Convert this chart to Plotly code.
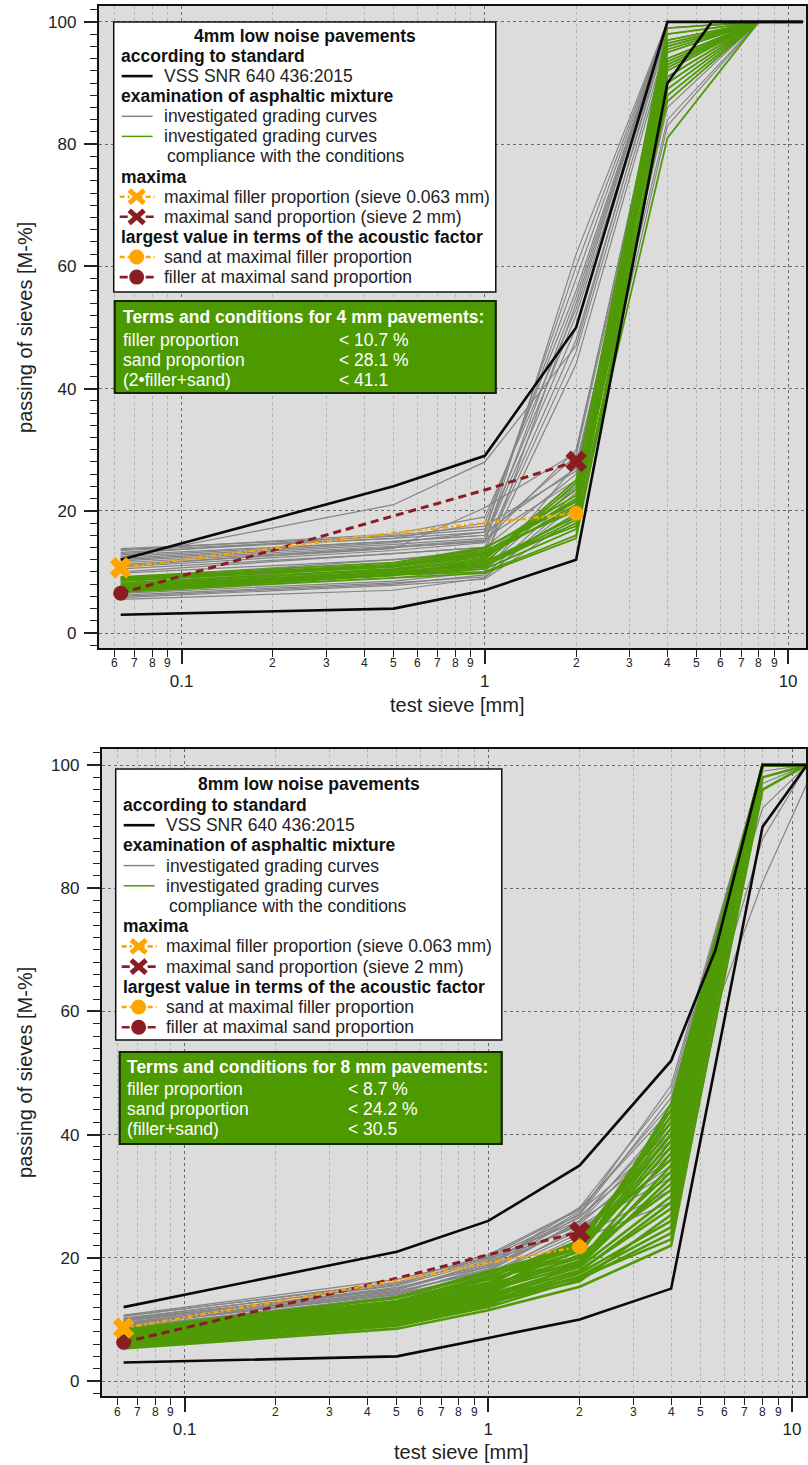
import math
import plotly.graph_objects as go

W, H = 808, 1465

# ---------------- data : 4 mm panel ----------------
SIEVES_4 = [0.063, 0.5, 1, 2, 4, 8]
UPPER_4_X = [0.063, 0.5, 1, 2, 4, 11.2]
UPPER_4_Y = [12, 24, 29, 50, 100, 100]
LOWER_4_X = [0.063, 0.5, 1, 2, 4, 5.6, 11.2]
LOWER_4_Y = [3, 4, 7, 12, 90, 100, 100]
GRAY_4 = [
    [13.5, 15.5, 16.5, 27.0, 93, 100],
    [12.8, 15.0, 16.0, 29.0, 95, 100],
    [12.0, 14.5, 15.5, 25.0, 90, 100],
    [11.5, 14.0, 15.0, 30.0, 96, 100],
    [10.5, 13.0, 14.0, 26.0, 92, 100],
    [9.8, 12.0, 13.0, 24.0, 88, 100],
    [13.0, 16.0, 17.5, 26.5, 94, 100],
    [6.0, 8.0, 9.5, 23.0, 86, 100],
    [5.5, 7.0, 9.0, 22.0, 84, 100],
    [7.0, 9.0, 10.5, 24.0, 90, 100],
    [6.5, 8.5, 10.0, 27.5, 91, 100],
    [5.8, 7.8, 8.8, 19.0, 83, 100],
    [6.2, 8.2, 9.2, 21.0, 89, 100],
    [12.5, 15.0, 16.0, 52.0, 99, 100],
    [11.0, 14.0, 15.0, 55.0, 100, 100],
    [13.8, 15.8, 17.0, 58.0, 100, 100],
    [10.0, 13.0, 14.0, 48.0, 98, 100],
    [12.2, 14.8, 16.5, 60.0, 100, 100],
    [9.0, 12.0, 13.5, 46.0, 97, 100],
    [13.2, 15.5, 18.0, 56.0, 100, 100],
    [11.8, 14.2, 15.2, 50.0, 99, 100],
    [8.0, 11.0, 12.5, 44.0, 96, 100],
    [12.4, 21.0, 28.0, 47.0, 99, 100],
    [13.6, 16.2, 19.0, 53.0, 100, 100],
    [10.8, 13.5, 14.8, 62.0, 100, 100],
    [11.2, 13.8, 20.5, 29.5, 97, 100],
    [7.5, 10.2, 11.8, 54.0, 100, 100],
]
GREEN_4 = [
    [7.0, 9.5, 11.5, 24.5, 97, 100],
    [9.2, 11.5, 14.0, 21.5, 95, 100],
    [8.5, 11.0, 13.0, 22.0, 93, 100],
    [8.2, 10.5, 12.5, 21.0, 96, 100],
    [8.8, 11.0, 13.5, 20.0, 92, 100],
    [7.8, 10.0, 11.5, 19.0, 90, 100],
    [7.5, 10.0, 11.0, 18.0, 94, 100],
    [7.2, 9.5, 10.5, 17.0, 88, 100],
    [6.8, 9.5, 10.0, 16.0, 91, 100],
    [6.7, 9.0, 9.8, 15.5, 89, 100],
    [9.0, 11.2, 13.8, 22.5, 98, 100],
    [8.6, 10.8, 12.8, 20.5, 93.5, 100],
    [7.6, 9.8, 11.2, 18.5, 95.5, 100],
    [7.3, 10.2, 12.2, 23.5, 87, 100],
    [7.9, 10.4, 11.8, 17.5, 81, 100],
    [6.9, 9.4, 12.0, 25.0, 99, 100],
    [8.9, 11.0, 13.2, 21.5, 96.5, 100],
    [7.4, 9.6, 10.8, 19.5, 92.5, 100],
]
MAXIMA_X = [0.063, 0.5, 1, 2]
MAX_FILLER_4 = [10.7, 16.4, 18.0, 19.6]
MAX_SAND_4 = [6.5, 19.2, 23.4, 28.1]

# ---------------- data : 8 mm panel ----------------
SIEVES_8 = [0.063, 0.5, 1, 2, 4, 8, 11.2]
UPPER_8_X = [0.063, 0.5, 1, 2, 4, 5.6, 8, 11.2]
UPPER_8_Y = [12, 21, 26, 35, 52, 70, 100, 100]
LOWER_8_X = [0.063, 0.5, 1, 2, 4, 8, 11.2]
LOWER_8_Y = [3, 4, 7, 10, 15, 90, 100]
GRAY_8 = [
    [10.7, 16.5, 20.0, 27.0, 46, 100, 100],
    [10.5, 16.0, 20.5, 28.0, 44, 100, 100],
    [10.2, 15.5, 19.5, 26.5, 42, 100, 100],
    [10.0, 15.0, 19.0, 27.5, 40, 98, 100],
    [9.8, 15.2, 18.5, 25.5, 38, 100, 100],
    [9.5, 14.5, 18.0, 26.0, 36, 97, 100],
    [9.2, 14.0, 17.5, 24.5, 35, 100, 100],
    [9.0, 14.2, 17.0, 25.0, 33, 100, 100],
    [8.8, 13.5, 16.5, 23.5, 31, 99, 100],
    [8.5, 13.0, 16.0, 23.0, 29, 100, 100],
    [9.7, 14.8, 18.8, 28.2, 47, 100, 100],
    [10.6, 15.8, 19.8, 26.0, 43, 100, 100],
    [9.4, 14.6, 17.8, 25.8, 41, 81, 97],
    [8.7, 13.8, 17.2, 24.0, 37, 100, 100],
    [10.1, 15.6, 20.2, 27.8, 45, 93, 100],
    [9.1, 14.4, 18.2, 26.8, 39, 88, 100],
    [9.9, 14.9, 19.3, 25.2, 34, 100, 100],
    [9.3, 14.1, 18.6, 27.2, 48, 100, 100],
]
GREEN_8 = [
    [8.2, 13.5, 17.5, 22.0, 43, 100, 100],
    [8.0, 13.0, 17.0, 21.5, 40, 100, 100],
    [7.8, 12.5, 16.5, 21.0, 38, 100, 100],
    [7.5, 12.2, 16.0, 22.5, 36, 100, 100],
    [7.2, 11.8, 15.5, 20.0, 34, 100, 100],
    [7.0, 11.5, 15.0, 19.5, 32, 100, 100],
    [6.8, 11.0, 14.5, 23.0, 42, 100, 100],
    [6.5, 10.5, 14.0, 18.5, 30, 100, 100],
    [6.2, 10.2, 13.5, 18.0, 28, 100, 100],
    [6.0, 10.0, 13.0, 17.5, 26, 100, 100],
    [5.8, 9.5, 12.5, 17.0, 25, 100, 100],
    [5.5, 9.0, 12.0, 16.5, 24, 100, 100],
    [5.3, 8.5, 11.5, 15.3, 22, 98, 100],
    [8.4, 13.6, 17.8, 21.8, 44, 100, 100],
    [7.6, 12.8, 16.8, 22.8, 41, 100, 100],
    [7.4, 12.0, 15.8, 19.0, 35, 100, 100],
    [7.1, 11.6, 15.2, 21.2, 39, 100, 100],
    [6.9, 11.2, 14.8, 18.8, 33, 100, 100],
    [6.6, 10.8, 14.2, 20.5, 31, 100, 100],
    [6.3, 10.4, 13.8, 17.8, 29, 100, 100],
    [5.9, 9.8, 12.8, 16.2, 27, 100, 100],
    [5.6, 9.2, 12.2, 19.5, 37, 100, 100],
    [8.1, 12.9, 16.6, 20.2, 45, 100, 100],
    [7.3, 11.9, 15.6, 22.9, 40, 100, 100],
    [6.1, 10.1, 13.2, 16.8, 23, 96, 100],
]
MAX_FILLER_8 = [8.6, 16.3, 19.2, 21.8]
MAX_SAND_8 = [6.3, 16.7, 20.5, 24.2]

# ---------------- tick labels & texts ----------------
Y_TICKS = [0, 20, 40, 60, 80, 100]
X_MAJOR = [0.1, 1, 10]
X_MAJOR_TEXT = ["0.1", "1", "10"]
X_MINOR = [0.06, 0.07, 0.08, 0.09, 0.2, 0.3, 0.4, 0.5, 0.6, 0.7, 0.8, 0.9,
           2, 3, 4, 5, 6, 7, 8, 9]
X_MINOR_TEXT = ["6", "7", "8", "9", "2", "3", "4", "5", "6", "7", "8", "9",
                "2", "3", "4", "5", "6", "7", "8", "9"]
X_TITLE = "test sieve [mm]"
Y_TITLE = "passing of sieves [M-%]"

LEGEND_ROWS = [
    ("head", "according to standard"),
    ("black", "VSS SNR 640 436:2015"),
    ("head", "examination of asphaltic mixture"),
    ("gray", "investigated grading curves"),
    ("green", "investigated grading curves"),
    ("cont", "compliance with the conditions"),
    ("head", "maxima"),
    ("fillx", "maximal filler proportion (sieve 0.063 mm)"),
    ("sandx", "maximal sand proportion (sieve 2 mm)"),
    ("head", "largest value in terms of the acoustic factor"),
    ("fillo", "sand at maximal filler proportion"),
    ("sando", "filler at maximal sand proportion"),
]

# ---------------- styles ----------------
FONT = "Liberation Sans, Arial, sans-serif"
C_GRAY = "#858585"
C_GREEN = "#4f9a06"
C_BLACK = "#0a0a0a"
C_ORANGE = "#FFA500"
C_RED = "#8a1c24"
C_BG = "#dcdcdc"
C_BOX_GREEN = "#4d9900"
DASH_ORANGE = "5px,3px,2px,3px"
DASH_RED = "8px,5px"

PANELS = [
    dict(name="4mm low noise pavements",
         terms_title="Terms and conditions for 4 mm pavements:",
         terms_names=["filler proportion", "sand proportion", "(2•filler+sand)"],
         terms_values=["< 10.7 %", "< 28.1 %", "< 41.1"],
         sieves=SIEVES_4, gray=GRAY_4, green=GREEN_4, green_w=1.8,
         up=(UPPER_4_X, UPPER_4_Y), low=(LOWER_4_X, LOWER_4_Y),
         maxf=MAX_FILLER_4, maxs=MAX_SAND_4,
         px0=99, py0=6, py1=648, xr=[-1.273, 1.059], yr=[-2.45, 102.6],
         box=(114, 22, 497, 292), title_y=36, row0=56, step=20.1,
         hx=119, ex=162, cx=165, sx0=120, sx1=155, mx=137,
         gbox=(115, 301, 497, 393), gt_y=317, g_rows=[340, 360, 380], g_x=121, g_vx=338,
         minor_y=663, xt=(458, 705), yt=(25, 327)),
    dict(name="8mm low noise pavements",
         terms_title="Terms and conditions for 8 mm pavements:",
         terms_names=["filler proportion", "sand proportion", "(filler+sand)"],
         terms_values=["< 8.7 %", "< 24.2 %", "< 30.5"],
         sieves=SIEVES_8, gray=GRAY_8, green=GREEN_8, green_w=2.6,
         up=(UPPER_8_X, UPPER_8_Y), low=(LOWER_8_X, LOWER_8_Y),
         maxf=MAX_FILLER_8, maxs=MAX_SAND_8,
         px0=102, py0=749, py1=1396, xr=[-1.2726, 1.046], yr=[-2.43, 102.6],
         box=(116, 769, 503, 1040), title_y=784, row0=805, step=20.2,
         hx=121, ex=164, cx=167, sx0=122, sx1=157, mx=139,
         gbox=(120, 1052, 503, 1144), gt_y=1067, g_rows=[1089, 1109, 1129], g_x=125, g_vx=347,
         minor_y=1412, xt=(462, 1452), yt=(25, 1072)),
]


def PX(x):
    return x / W


def PY(y):
    return 1 - y / H


fig = go.Figure()
annotations = []
shapes = []
layout_axes = {}

for i, p in enumerate(PANELS):
    sfx = "" if i == 0 else str(i + 1)
    xa, ya = "x" + sfx, "y" + sfx
    # grading curves
    for curve in p["gray"]:
        fig.add_trace(go.Scatter(x=p["sieves"], y=curve, mode="lines", xaxis=xa, yaxis=ya,
                                 line=dict(color=C_GRAY, width=1.2), showlegend=False, hoverinfo="skip"))
    for curve in p["green"]:
        fig.add_trace(go.Scatter(x=p["sieves"], y=curve, mode="lines", xaxis=xa, yaxis=ya,
                                 line=dict(color=C_GREEN, width=p["green_w"]), showlegend=False, hoverinfo="skip"))
    # standard envelope
    for ex_, ey_ in (p["up"], p["low"]):
        fig.add_trace(go.Scatter(x=ex_, y=ey_, mode="lines", xaxis=xa, yaxis=ya,
                                 line=dict(color=C_BLACK, width=2.6), showlegend=False, hoverinfo="skip"))
    # maxima curves
    fig.add_trace(go.Scatter(x=MAXIMA_X, y=p["maxs"], mode="lines", xaxis=xa, yaxis=ya,
                             line=dict(color=C_RED, width=3, dash=DASH_RED), showlegend=False, hoverinfo="skip"))
    fig.add_trace(go.Scatter(x=MAXIMA_X, y=p["maxf"], mode="lines", xaxis=xa, yaxis=ya,
                             line=dict(color=C_ORANGE, width=2.6, dash=DASH_ORANGE), showlegend=False, hoverinfo="skip"))
    # markers
    fig.add_trace(go.Scatter(x=[MAXIMA_X[0]], y=[p["maxs"][0]], mode="markers", xaxis=xa, yaxis=ya,
                             marker=dict(symbol="circle", size=15, color=C_RED), showlegend=False, hoverinfo="skip"))
    fig.add_trace(go.Scatter(x=[MAXIMA_X[-1]], y=[p["maxf"][-1]], mode="markers", xaxis=xa, yaxis=ya,
                             marker=dict(symbol="circle", size=15, color=C_ORANGE), showlegend=False, hoverinfo="skip"))
    fig.add_trace(go.Scatter(x=[MAXIMA_X[0]], y=[p["maxf"][0]], mode="markers", xaxis=xa, yaxis=ya,
                             marker=dict(symbol="x", size=19, color=C_ORANGE, line=dict(width=0)),
                             showlegend=False, hoverinfo="skip"))
    fig.add_trace(go.Scatter(x=[MAXIMA_X[-1]], y=[p["maxs"][-1]], mode="markers", xaxis=xa, yaxis=ya,
                             marker=dict(symbol="x", size=19, color=C_RED, line=dict(width=0)),
                             showlegend=False, hoverinfo="skip"))

    # axes
    layout_axes["xaxis" + sfx] = dict(
        type="log", range=p["xr"], domain=[PX(p["px0"]), 1.0], anchor=ya,
        tickmode="array", tickvals=X_MAJOR, ticktext=X_MAJOR_TEXT,
        ticks="outside", ticklen=14, tickwidth=1.5, tickcolor="#222",
        tickfont=dict(family=FONT, size=17, color="#222"), ticklabelstandoff=3,
        showline=True, linecolor="#111", linewidth=2, mirror=True,
        showgrid=True, gridcolor="#6a6a6a", gridwidth=1, griddash="dot",
        minor=dict(tickmode="array", tickvals=X_MINOR, ticks="outside", ticklen=7, tickwidth=1,
                   tickcolor="#222", showgrid=True, gridcolor="#b4b4b4", gridwidth=1, griddash="dot"),
        zeroline=False, fixedrange=True,
    )
    layout_axes["yaxis" + sfx] = dict(
        range=p["yr"], domain=[PY(p["py1"]), PY(p["py0"])], anchor=xa,
        tickmode="array", tickvals=Y_TICKS,
        ticks="outside", ticklen=13, tickwidth=1.5, tickcolor="#222",
        tickfont=dict(family=FONT, size=17, color="#222"), ticklabelstandoff=4,
        showline=True, linecolor="#111", linewidth=2, mirror=True,
        showgrid=True, gridcolor="#6a6a6a", gridwidth=1, griddash="dot",
        minor=dict(dtick=2, tick0=0, ticks="outside", ticklen=7, tickwidth=1, tickcolor="#222", showgrid=False),
        zeroline=False, fixedrange=True,
    )

    # minor x tick labels
    for v, t in zip(X_MINOR, X_MINOR_TEXT):
        annotations.append(dict(x=math.log10(v), y=PY(p["minor_y"]), xref=xa, yref="paper", text=t,
                                showarrow=False, xanchor="center", yanchor="middle",
                                font=dict(family=FONT, size=12, color="#222")))
    # axis titles
    annotations.append(dict(x=PX(p["xt"][0]), y=PY(p["xt"][1]), xref="paper", yref="paper", text=X_TITLE,
                            showarrow=False, xanchor="center", yanchor="middle",
                            font=dict(family=FONT, size=20, color="#222")))
    annotations.append(dict(x=PX(p["yt"][0]), y=PY(p["yt"][1]), xref="paper", yref="paper", text=Y_TITLE,
                            showarrow=False, xanchor="center", yanchor="middle", textangle=-90,
                            font=dict(family=FONT, size=20, color="#222")))

    # legend box
    bx0, by0, bx1, by1 = p["box"]
    shapes.append(dict(type="rect", xref="paper", yref="paper", x0=PX(bx0), x1=PX(bx1), y0=PY(by0), y1=PY(by1),
                       fillcolor="white", line=dict(color="#111", width=1.5), layer="above"))
    annotations.append(dict(x=PX((bx0 + bx1) / 2), y=PY(p["title_y"]), xref="paper", yref="paper",
                            text="<b>" + p["name"] + "</b>", showarrow=False, xanchor="center", yanchor="middle",
                            font=dict(family=FONT, size=17.5, color="#111")))
    for r, (kind, txt) in enumerate(LEGEND_ROWS):
        ry = p["row0"] + r * p["step"]
        if kind == "head":
            annotations.append(dict(x=PX(p["hx"]), y=PY(ry), xref="paper", yref="paper", text="<b>" + txt + "</b>",
                                    showarrow=False, xanchor="left", yanchor="middle",
                                    font=dict(family=FONT, size=17.5, color="#111")))
            continue
        tx = p["cx"] if kind == "cont" else p["ex"]
        annotations.append(dict(x=PX(tx), y=PY(ry), xref="paper", yref="paper", text=txt,
                                showarrow=False, xanchor="left", yanchor="middle",
                                font=dict(family=FONT, size=17.5, color="#222")))
        sx0, sx1, mx = p["sx0"], p["sx1"], p["mx"]
        if kind in ("black", "gray", "green"):
            col = {"black": C_BLACK, "gray": C_GRAY, "green": C_GREEN}[kind]
            wid = {"black": 2.6, "gray": 1.5, "green": 1.5}[kind]
            shapes.append(dict(type="line", xref="paper", yref="paper", x0=PX(sx0 + 2), x1=PX(sx1 - 2),
                               y0=PY(ry), y1=PY(ry), line=dict(color=col, width=wid), layer="above"))
        elif kind in ("fillx", "sandx", "fillo", "sando"):
            col = C_ORANGE if kind.startswith("fill") else C_RED
            dash = DASH_ORANGE if kind.startswith("fill") else DASH_RED
            shapes.append(dict(type="line", xref="paper", yref="paper", x0=PX(sx0), x1=PX(sx1),
                               y0=PY(ry), y1=PY(ry), line=dict(color=col, width=2.6, dash=dash), layer="above"))
            if kind.endswith("x"):
                hw, hh = 7.5, 6.5
                path = (f"M {PX(mx - hw)},{PY(ry - hh)} L {PX(mx + hw)},{PY(ry + hh)} "
                        f"M {PX(mx - hw)},{PY(ry + hh)} L {PX(mx + hw)},{PY(ry - hh)}")
                shapes.append(dict(type="path", xref="paper", yref="paper", path=path,
                                   line=dict(color=col, width=5), layer="above"))
            else:
                rr = 7.5
                shapes.append(dict(type="circle", xref="paper", yref="paper", x0=PX(mx - rr), x1=PX(mx + rr),
                                   y0=PY(ry - rr), y1=PY(ry + rr), fillcolor=col, line=dict(color=col, width=0),
                                   layer="above"))

    # terms & conditions box
    gx0, gy0, gx1, gy1 = p["gbox"]
    shapes.append(dict(type="rect", xref="paper", yref="paper", x0=PX(gx0), x1=PX(gx1), y0=PY(gy0), y1=PY(gy1),
                       fillcolor=C_BOX_GREEN, line=dict(color="#14260a", width=2.2), layer="above"))
    annotations.append(dict(x=PX(p["g_x"]), y=PY(p["gt_y"]), xref="paper", yref="paper",
                            text="<b>" + p["terms_title"] + "</b>", showarrow=False, xanchor="left", yanchor="middle",
                            font=dict(family=FONT, size=17.5, color="white")))
    for gy, nm, val in zip(p["g_rows"], p["terms_names"], p["terms_values"]):
        annotations.append(dict(x=PX(p["g_x"]), y=PY(gy), xref="paper", yref="paper", text=nm,
                                showarrow=False, xanchor="left", yanchor="middle",
                                font=dict(family=FONT, size=17.5, color="white")))
        annotations.append(dict(x=PX(p["g_vx"]), y=PY(gy), xref="paper", yref="paper", text=val,
                                showarrow=False, xanchor="left", yanchor="middle",
                                font=dict(family=FONT, size=17.5, color="white")))

fig.update_layout(
    width=W, height=H, autosize=False,
    margin=dict(l=0, r=0, t=0, b=0, pad=0),
    paper_bgcolor="white", plot_bgcolor=C_BG,
    showlegend=False,
    annotations=annotations, shapes=shapes,
    font=dict(family=FONT),
    **layout_axes,
)

fig.write_html("out.html",
               config={"displayModeBar": False},
               post_script="document.body.style.margin='0px';document.body.style.overflow='hidden';")
